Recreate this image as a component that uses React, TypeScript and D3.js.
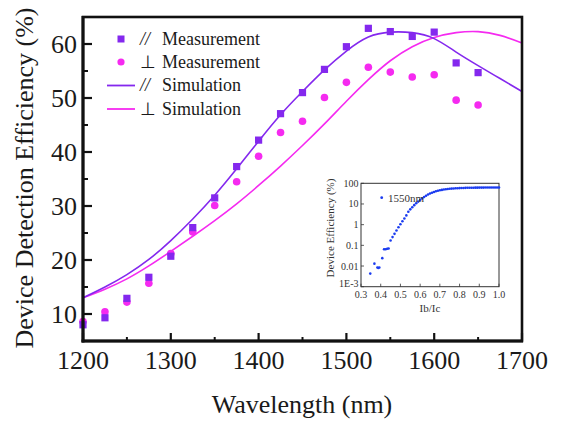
import * as d3 from 'd3';
import React from 'react';

// measured device detection efficiency vs wavelength (parallel / perpendicular polarisation)
const measWavelengths = [1200, 1225, 1250, 1275, 1300, 1325, 1350, 1375, 1400, 1425, 1450, 1475, 1500, 1525, 1550, 1575, 1600, 1625, 1650];
const parMeasured = [8.0, 9.3, 12.9, 16.8, 20.7, 26.0, 31.5, 37.3, 42.2, 47.1, 51.0, 55.3, 59.5, 62.9, 62.3, 61.4, 62.2, 56.5, 54.7];
const perpMeasured = [8.6, 10.4, 12.2, 15.7, 21.2, 25.2, 30.1, 34.5, 39.2, 43.6, 45.7, 50.1, 52.9, 55.7, 54.8, 53.9, 54.3, 49.6, 48.7];

// simulated curves
const simWavelengths = [1200, 1225, 1250, 1275, 1300, 1325, 1350, 1375, 1400, 1425, 1450, 1475, 1500, 1525, 1550, 1575, 1600, 1625, 1650, 1675, 1700];
const parSim = [13.0, 15.0, 17.3, 20.1, 23.6, 27.6, 32.0, 36.9, 42.0, 46.9, 51.2, 55.2, 58.7, 61.3, 62.2, 62.1, 61.0, 58.5, 56.0, 53.6, 51.2];
const perpSim = [13.0, 14.6, 16.5, 18.9, 21.6, 24.4, 27.3, 30.4, 33.8, 37.4, 41.2, 45.2, 49.4, 53.4, 56.9, 59.5, 61.2, 62.1, 62.3, 61.6, 60.2];

const xTicks = [1200, 1300, 1400, 1500, 1600, 1700];
const xMinor = [1250, 1350, 1450, 1550, 1650];
const yTicks = [10, 20, 30, 40, 50, 60];
const yMinor = [15, 25, 35, 45, 55, 65];

// inset: efficiency vs bias current ratio at 1550 nm
const biasRatio = [0.347, 0.368, 0.383, 0.388, 0.393, 0.408, 0.417, 0.425, 0.433, 0.44, 0.45, 0.46, 0.47, 0.48, 0.49, 0.5, 0.51, 0.52, 0.53, 0.54, 0.55, 0.56, 0.57, 0.58, 0.59, 0.6, 0.61, 0.62, 0.63, 0.64, 0.65, 0.66, 0.67, 0.68, 0.69, 0.7, 0.71, 0.72, 0.73, 0.74, 0.75, 0.76, 0.77, 0.78, 0.79, 0.8, 0.81, 0.82, 0.83, 0.84, 0.85, 0.86, 0.87, 0.88, 0.89, 0.9, 0.91, 0.92, 0.93, 0.94, 0.95, 0.96, 0.97, 0.98, 0.99, 1.0];
const biasEff = [0.0043, 0.013, 0.0085, 0.008, 0.0085, 0.024, 0.065, 0.065, 0.068, 0.07, 0.17, 0.25, 0.36, 0.52, 0.75, 1.05, 1.45, 2.0, 2.8, 4.2, 5.5, 7.0, 8.8, 10.8, 13.0, 15.5, 18.5, 21.8, 25.2, 28.6, 32.0, 35.2, 38.2, 41.0, 43.6, 46.0, 48.0, 50.0, 51.6, 53.0, 54.4, 55.5, 56.5, 57.3, 58.0, 58.7, 59.2, 59.7, 60.1, 60.5, 60.8, 61.1, 61.3, 61.5, 61.7, 61.9, 62.0, 62.1, 62.2, 62.3, 62.4, 62.5, 62.5, 62.6, 62.6, 62.7];
const insetXTicks = [0.3, 0.4, 0.5, 0.6, 0.7, 0.8, 0.9, 1.0];
const insetYTicks = [100, 10, 1, 0.1, 0.01, 0.001];
const insetYLabels = ['100', '10', '1', '0.1', '0.01', '1E-3'];

const PAR = '#8428ee';
const PERP = '#f52af0';
const FONT = '"Liberation Serif", "Times New Roman", serif';

const App = () => {
    const x = d3.scaleLinear().domain([1200, 1700]).range([83, 522]);
    const y = d3.scaleLinear().domain([5, 65]).range([341, 17]);

    const simLine = (vals: number[]) =>
        d3.line<number>()
            .x((d, i) => x(simWavelengths[i]))
            .y(d => y(d))
            .curve(d3.curveNatural)(vals) as string;

    const ix = d3.scaleLinear().domain([0.3, 1.0]).range([361, 499]);
    const iy = d3.scaleLog().domain([0.001, 100]).range([286.7, 183.3]);

    const legendRows = [
        { kind: 'square', sym: '//', text: 'Measurement', y: 44.5 },
        { kind: 'circle', sym: '⊥', text: 'Measurement', y: 67.5 },
        { kind: 'parline', sym: '//', text: 'Simulation', y: 91 },
        { kind: 'perpline', sym: '⊥', text: 'Simulation', y: 114.5 },
    ];

    return (
        <svg width={564} height={432} style={{ position: 'absolute', left: 0, top: 0, background: '#fff' }} fontFamily={FONT}>
            {/* simulation curves */}
            <path d={simLine(perpSim)} fill="none" stroke={PERP} strokeWidth={1.6} />
            <path d={simLine(parSim)} fill="none" stroke={PAR} strokeWidth={1.6} />

            {/* measurements */}
            {perpMeasured.map((v, i) => (
                <circle key={'c' + i} cx={x(measWavelengths[i])} cy={y(v)} r={3.8} fill={PERP} />
            ))}
            {parMeasured.map((v, i) => (
                <rect key={'s' + i} x={x(measWavelengths[i]) - 3.6} y={y(v) - 3.6} width={7.2} height={7.2} fill={PAR} />
            ))}

            {/* frame */}
            <rect x={83} y={17} width={439} height={324} fill="none" stroke="#111" strokeWidth={2.6} />
            <line x1={83} x2={83} y1={16} y2={342.5} stroke="#111" strokeWidth={3} />
            <line x1={81.5} x2={523} y1={341} y2={341} stroke="#111" strokeWidth={3} />

            {/* x axis */}
            {xTicks.map(t => (
                <g key={'xt' + t}>
                    <line x1={x(t)} x2={x(t)} y1={341} y2={333} stroke="#111" strokeWidth={2.2} />
                    <text x={x(t)} y={369} textAnchor="middle" fontSize={26} fill="#1a1a1a">{t}</text>
                </g>
            ))}
            {xMinor.map(t => (
                <line key={'xm' + t} x1={x(t)} x2={x(t)} y1={341} y2={337} stroke="#111" strokeWidth={2} />
            ))}
            <text x={302} y={413} textAnchor="middle" fontSize={26} fill="#1a1a1a">Wavelength (nm)</text>

            {/* y axis */}
            {yTicks.map(t => (
                <g key={'yt' + t}>
                    <line x1={83} x2={92} y1={y(t)} y2={y(t)} stroke="#111" strokeWidth={2.2} />
                    <text x={77} y={y(t)} dy="0.35em" textAnchor="end" fontSize={26} fill="#1a1a1a">{t}</text>
                </g>
            ))}
            {yMinor.map(t => (
                <line key={'ym' + t} x1={83} x2={88} y1={y(t)} y2={y(t)} stroke="#111" strokeWidth={2} />
            ))}
            <text transform="translate(33,178) rotate(-90)" textAnchor="middle" fontSize={26} fill="#1a1a1a">
                Device Detection Efficiency (%)
            </text>

            {/* legend */}
            {legendRows.map((r, i) => {
                const cy = r.y - 5.5;
                return (
                    <g key={'lg' + i}>
                        {r.kind === 'square' && <rect x={117.5} y={cy - 3.5} width={7} height={7} fill={PAR} />}
                        {r.kind === 'circle' && <circle cx={121} cy={cy} r={3.6} fill={PERP} />}
                        {r.kind === 'parline' && <line x1={107} x2={135} y1={cy} y2={cy} stroke={PAR} strokeWidth={1.8} />}
                        {r.kind === 'perpline' && <line x1={107} x2={135} y1={cy} y2={cy} stroke={PERP} strokeWidth={1.8} />}
                        <text x={140} y={r.y} fontSize={18} fontStyle={r.sym === '//' ? 'italic' : 'normal'} fill="#1a1a1a">{r.sym}</text>
                        <text x={162} y={r.y} fontSize={18} fill="#1a1a1a">{r.text}</text>
                    </g>
                );
            })}

            {/* inset */}
            <g>
                <rect x={361} y={183.3} width={138} height={103.4} fill="#fff" stroke="#333" strokeWidth={1} />
                {insetXTicks.map(t => (
                    <g key={'ixt' + t}>
                        <line x1={ix(t)} x2={ix(t)} y1={286.7} y2={283.7} stroke="#333" strokeWidth={0.8} />
                        <text x={ix(t)} y={297.5} textAnchor="middle" fontSize={10} fill="#333">{t.toFixed(1)}</text>
                    </g>
                ))}
                {insetYTicks.map((t, i) => (
                    <g key={'iyt' + t}>
                        <line x1={361} x2={364} y1={iy(t)} y2={iy(t)} stroke="#333" strokeWidth={0.8} />
                        <text x={358.5} y={iy(t) - (i === insetYTicks.length - 1 ? 3.5 : 0)} dy="0.35em" textAnchor="end" fontSize={10} fill="#333">{insetYLabels[i]}</text>
                    </g>
                ))}
                {biasEff.map((v, i) => (
                    <circle key={'ip' + i} cx={ix(biasRatio[i])} cy={iy(v)} r={1.3} fill="#1b3cf0" />
                ))}
                <circle cx={381.7} cy={197.7} r={1.4} fill="#1b3cf0" />
                <text x={388} y={201.5} fontSize={11} fill="#333">1550nm</text>
                <text x={430} y={312} textAnchor="middle" fontSize={11} fill="#333">Ib/Ic</text>
                <text transform="translate(334,228) rotate(-90)" textAnchor="middle" fontSize={11} fill="#333">
                    Device Efficiency (%)
                </text>
            </g>
        </svg>
    );
};

export default App;
